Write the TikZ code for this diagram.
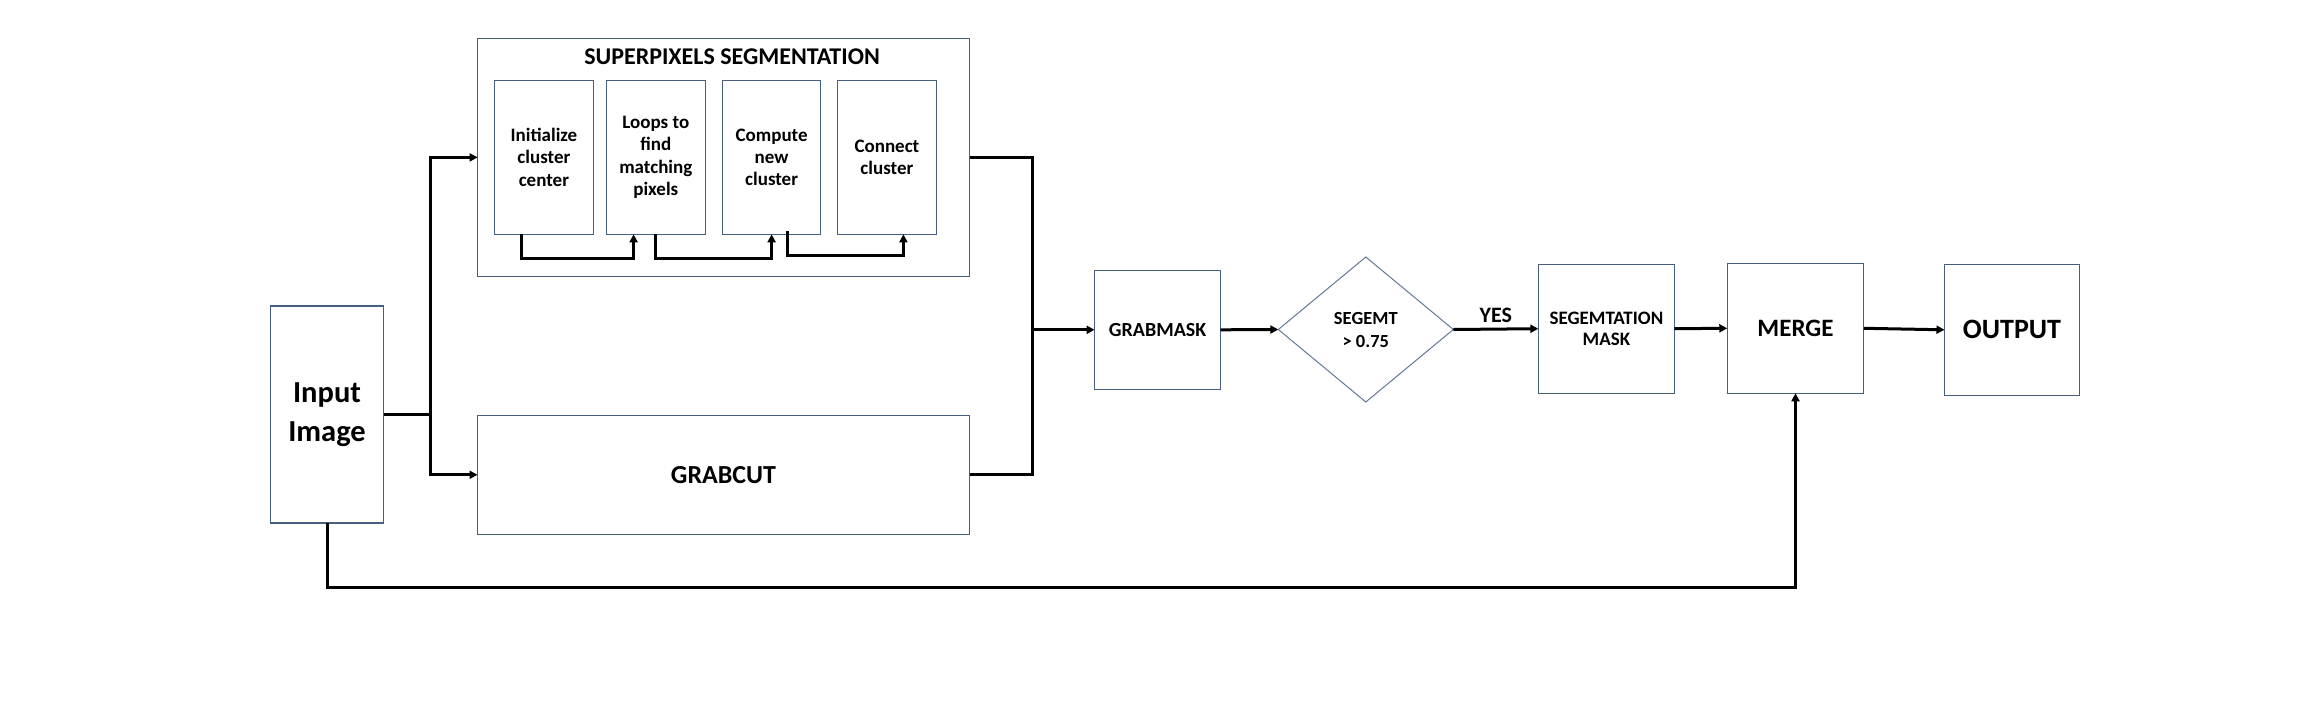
\documentclass[tikz,border=0pt]{standalone}
\usepackage{fontspec}
\setmainfont{Carlito}
\usetikzlibrary{shapes.geometric,arrows.meta}
\definecolor{bordc}{RGB}{70,94,128}
\definecolor{diac}{RGB}{100,120,150}
\tikzset{
  box/.style={draw=bordc, line width=1.3pt, rectangle, inner sep=0pt, outer sep=0pt, align=center, font=\bfseries},
  conn/.style={line width=3pt, black},
  arr/.style={conn, -{Triangle[length=8pt,width=8pt]}},
}
\begin{document}
\begin{tikzpicture}[x=1pt,y=-1pt]
\useasboundingbox (0,0) rectangle (2304,720);
% nodes
\node[box, minimum width=113pt, minimum height=217pt, font=\bfseries\fontsize{30.5}{39.3}\selectfont] (in) at (327,414.5) {Input\\Image};
\node[box, minimum width=492pt, minimum height=238.5pt] (sp) at (723.6,157.4) {};
\node[font=\bfseries\fontsize{24}{28}\selectfont, inner sep=0pt] (title) at (732,57) {SUPERPIXELS SEGMENTATION};
\node[box, minimum width=99pt, minimum height=154pt, font=\bfseries\fontsize{19}{22.3}\selectfont] (i1) at (543.9,157.3) {Initialize\\cluster\\center};
\node[box, minimum width=99pt, minimum height=154pt, font=\bfseries\fontsize{19}{22.3}\selectfont] (i2) at (655.8,157.3) {Loops to\\find\\matching\\pixels};
\node[box, minimum width=98pt, minimum height=154pt, font=\bfseries\fontsize{19}{22.3}\selectfont] (i3) at (771.6,157.3) {Compute\\new\\cluster};
\node[box, minimum width=99pt, minimum height=154pt, font=\bfseries\fontsize{19}{22.3}\selectfont] (i4) at (886.9,157.3) {Connect\\cluster};
\node[box, minimum width=492pt, minimum height=119pt, font=\bfseries\fontsize{26}{30}\selectfont] (gc) at (723.5,474.8) {GRABCUT};
\node[box, minimum width=126pt, minimum height=119pt, font=\bfseries\fontsize{20}{24}\selectfont] (gm) at (1157.6,329.8) {GRABMASK};
\node[box, draw=diac, line width=1pt, shape=diamond, aspect=1.2, minimum width=175pt, minimum height=145pt, font=\bfseries\fontsize{18.5}{23}\selectfont] (dia) at (1365.8,329.5) {SEGEMT\\> 0.75};
\node[box, minimum width=136pt, minimum height=129pt, font=\bfseries\fontsize{19}{21.7}\selectfont] (sm) at (1606.4,328.7) {SEGEMTATION\\MASK};
\node[box, minimum width=136.5pt, minimum height=130pt, font=\bfseries\fontsize{25}{30}\selectfont] (mg) at (1795.5,328.3) {MERGE};
\node[box, minimum width=135pt, minimum height=131pt, font=\bfseries\fontsize{28}{33}\selectfont] (out) at (2012,329.8) {OUTPUT};
% coordinates
\coordinate (j1) at (430,414.5);
\coordinate (j2) at (1032,329.8);
\coordinate (bl) at (327,587);
% connectors
\draw[conn] (in.east) -- (j1);
\draw[arr] (j1) |- (sp.west);
\draw[arr] (j1) |- (gc.west);
\draw[conn] (sp.east) -| (j2) |- (gc.east);
\draw[arr] (j2) -- (gm.west);
\draw[arr] (gm.east) -- (dia.west);
\draw[arr] (dia.east) -- node[above=5pt, font=\bfseries\fontsize{22}{26}\selectfont, inner sep=0pt] (yes) {YES} (sm.west);
\draw[arr] (sm.east) -- (mg.west);
\draw[arr] (mg.east) -- (out.west);
\draw[arr] (in.south) -- (bl) -| (mg.south);
% inner loops
\draw[arr] ([xshift=-22.7pt]i1.south) -- ++(0,24) -| ([xshift=-22.2pt]i2.south);
\draw[arr] (i2.south) -- ++(0,24) -| (i3.south);
\draw[arr] ([xshift=16pt,yshift=3pt]i3.south) -- ++(0,24) -| ([xshift=16.5pt]i4.south);
\end{tikzpicture}
\end{document}
